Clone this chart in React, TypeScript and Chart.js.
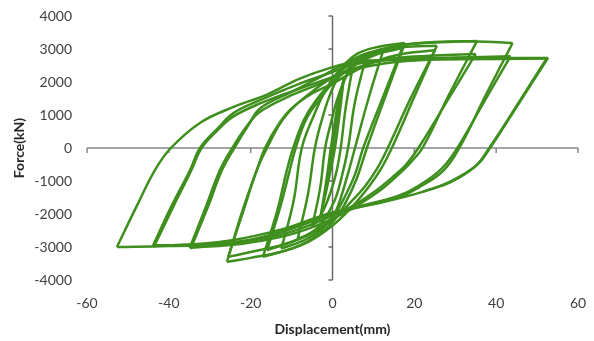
import React, { useEffect, useRef } from 'react';
import { Chart, registerables } from 'chart.js';

Chart.register(...registerables);

type Pt = [number, number];

// Hysteresis branches: [displacement (mm), force (kN)], in loading order
const b01: Pt[] = [[0, 0], [0.8, 650], [1.5, 1250]];
const b02: Pt[] = [[1.5, 1250], [0.6, 500], [0.2, 0], [-0.6, -500], [-1.5, -1150]];
const b03: Pt[] = [[-1.5, -1150], [-0.6, -450], [-0.2, 0], [0.8, 700], [1.8, 1450], [2.8, 2150]];
const b04: Pt[] = [[2.8, 2150], [1.5, 800], [0.6, 0], [-0.5, -700], [-1.6, -1350], [-2.8, -2000]];
const b05: Pt[] = [[-2.8, -2000], [-1.4, -900], [-0.4, 0], [0.6, 800], [1.6, 1500], [3, 2100], [5, 2500]];
const b06: Pt[] = [[5, 2500], [3.2, 1200], [2, 0], [1, -700], [-0.5, -1350], [-2.5, -1950], [-5, -2400]];
const b07: Pt[] = [[-5, -2400], [-3, -1200], [-1.8, 0], [-0.3, 800], [1.5, 1600], [4, 2300], [8.4, 2850]];
const b08: Pt[] = [[8.4, 2850], [5.5, 1400], [3.8, 0], [2.3, -850], [0.5, -1600], [-2.5, -2250], [-5.5, -2600], [-8.5, -2750]];
const b09: Pt[] = [[-8.5, -2750], [-6, -1400], [-4.3, 0], [-2.5, 900], [0, 1800], [3, 2450], [7, 2800], [12.5, 3000]];
const b10: Pt[] = [[12.5, 3000], [8.8, 1500], [5.5, 0], [3.5, -900], [1.5, -1700], [0, -2100], [-3, -2500], [-7, -2800], [-12.5, -3050]];
const b11: Pt[] = [[-12.5, -3050], [-9.5, -1600], [-7.5, 0], [-4.5, 1000], [-1.5, 1800], [2, 2400], [6, 2850], [11, 3060], [17.7, 3180]];
const b12: Pt[] = [[17.7, 3180], [13, 1590], [8.4, 0], [6, -900], [3, -1700], [0, -2250], [-5, -2750], [-10, -3050], [-17, -3300]];
const b13: Pt[] = [[-17, -3300], [-13.5, -1900], [-11.2, -700], [-9.6, 0], [-7, 850], [-4, 1450], [0, 2000], [6, 2550], [11, 2850], [17, 3020]];
const b14: Pt[] = [[17, 3020], [12.2, 1500], [7.5, 0], [5.5, -800], [2.5, -1600], [0, -2100], [-5, -2550], [-10, -2850], [-16, -3100]];
const b15: Pt[] = [[-16, -3100], [-12.8, -1800], [-10.5, -700], [-9, 0], [-6.5, 850], [-3, 1500], [1, 2100], [5, 2500], [10, 2850], [17, 3050], [25.5, 3100]];
const b16: Pt[] = [[25.5, 3100], [20, 1550], [14.5, 0], [12, -600], [9, -1150], [5, -1750], [0, -2350], [-6, -2850], [-12.8, -3150], [-20, -3330], [-25.8, -3450]];
const b17: Pt[] = [[-25.8, -3450], [-22, -1900], [-18.5, -670], [-16.5, 0], [-13, 750], [-10, 1200], [-5, 1650], [0, 1950], [5, 2300], [10, 2600], [17, 2850], [25, 2960]];
const b18: Pt[] = [[25, 2960], [19, 1480], [13.5, 0], [11, -600], [8, -1150], [4, -1700], [0, -2200], [-6, -2650], [-12.8, -2950], [-20, -3150], [-25.5, -3300]];
const b19: Pt[] = [[-25.5, -3300], [-21.5, -1800], [-18.5, -670], [-16, 0], [-12.5, 800], [-9, 1300], [-4, 1800], [0, 2150], [5, 2600], [10, 2900], [17, 3120], [25, 3200], [35.3, 3240]];
const b20: Pt[] = [[35.3, 3240], [28.5, 1620], [22, 0], [19, -450], [16.5, -760], [12, -1250], [6, -1750], [0, -2150], [-6, -2450], [-12.8, -2700], [-22, -2900], [-34.9, -3030]];
const b21: Pt[] = [[-34.9, -3030], [-31, -1800], [-27.5, -670], [-24.5, 0], [-21, 650], [-17.7, 1100], [-10, 1600], [-3, 1950], [3, 2300], [8, 2520], [15, 2720], [25, 2800], [35, 2850]];
const b22: Pt[] = [[35, 2850], [28, 1420], [21, 0], [18, -500], [15, -850], [10, -1350], [5, -1750], [0, -2050], [-8, -2450], [-15, -2700], [-25, -2900], [-34.5, -3000]];
const b23: Pt[] = [[-34.5, -3000], [-30.5, -1800], [-27, -670], [-24, 0], [-20.5, 700], [-17.7, 1200], [-10, 1700], [-3, 2150], [3, 2550], [8, 2850], [15, 3080], [25, 3210], [35, 3230], [44, 3180]];
const b24: Pt[] = [[44, 3180], [37.4, 1590], [31, 0], [27, -700], [21, -1200], [16.5, -1480], [8, -1750], [0, -2000], [-10, -2450], [-20, -2800], [-32, -2950], [-43.9, -2970]];
const b25: Pt[] = [[-43.9, -2970], [-39.5, -1800], [-34.8, -670], [-32.4, 0], [-28, 600], [-24.3, 1050], [-17.7, 1450], [-8, 1950], [0, 2300], [6, 2550], [15, 2680], [30, 2740], [43.5, 2780]];
const b26: Pt[] = [[43.5, 2780], [37, 1390], [30.5, 0], [26.5, -650], [21, -1150], [16, -1450], [8, -1720], [0, -1980], [-10, -2420], [-20, -2780], [-32, -2920], [-43.5, -2950]];
const b27: Pt[] = [[-43.5, -2950], [-39, -1800], [-34.5, -670], [-32, 0], [-28, 550], [-24.3, 950], [-17.7, 1350], [-8, 1800], [0, 2150], [6, 2400], [15, 2600], [30, 2700], [52.7, 2730]];
const b28: Pt[] = [[52.7, 2730], [45.6, 1365], [38.5, 0], [35.3, -515], [29, -1000], [22, -1330], [12, -1650], [0, -1950], [-12, -2450], [-25, -2800], [-40, -2960], [-52.7, -3000]];
const b29: Pt[] = [[-52.7, -3000], [-48, -1800], [-43.4, -670], [-39.5, 0], [-32.4, 760], [-24.3, 1240], [-16, 1620], [-8, 2100], [0, 2450], [6, 2620], [15, 2670], [30, 2690], [52.3, 2710]];
const b30: Pt[] = [[52.3, 2710], [45.4, 1355], [38.3, 0], [35, -540], [29, -1030], [22, -1330]];

const branches: Pt[][] = [
  b01, b02, b03, b04, b05, b06, b07, b08, b09, b10,
  b11, b12, b13, b14, b15, b16, b17, b18, b19, b20,
  b21, b22, b23, b24, b25, b26, b27, b28, b29, b30,
];

const xTicks = [-60, -40, -20, 0, 20, 40, 60];
const yTicks = [-4000, -3000, -2000, -1000, 0, 1000, 2000, 3000, 4000];
const xTitle = 'Displacement(mm)';
const yTitle = 'Force(kN)';

const LINE_COLOR = '#3f8f1f';
const AXIS_COLOR = '#868686';
const FONT = 'Lato, "Open Sans", sans-serif';

const centerAxes = {
  id: 'centerAxes',
  beforeDatasetsDraw(chart: any) {
    const { ctx, scales } = chart;
    const x = scales.x;
    const y = scales.y;
    const x0 = x.getPixelForValue(0);
    const y0 = y.getPixelForValue(0);
    ctx.save();
    ctx.strokeStyle = AXIS_COLOR;
    ctx.lineWidth = 1.5;
    ctx.beginPath();
    ctx.moveTo(x.getPixelForValue(xTicks[0]), y0);
    ctx.lineTo(x.getPixelForValue(xTicks[xTicks.length - 1]), y0);
    xTicks.forEach((v) => {
      const px = x.getPixelForValue(v);
      ctx.moveTo(px, y0);
      ctx.lineTo(px, y0 + 5);
    });
    ctx.stroke();
    ctx.strokeStyle = '#6b6b6b';
    ctx.beginPath();
    ctx.moveTo(x0, y.getPixelForValue(yTicks[yTicks.length - 1]));
    ctx.lineTo(x0, y.getPixelForValue(yTicks[0]));
    yTicks.forEach((v) => {
      const py = y.getPixelForValue(v);
      ctx.moveTo(x0 - 4, py);
      ctx.lineTo(x0, py);
    });
    ctx.stroke();
    ctx.restore();
  },
};

export default function App() {
  const ref = useRef<HTMLCanvasElement>(null);
  useEffect(() => {
    if (!ref.current) return;
    const chart = new Chart(ref.current, {
      type: 'scatter',
      data: {
        datasets: branches.map((b) => ({
          data: b.map(([x, y]) => ({ x, y })),
          showLine: true,
          borderColor: LINE_COLOR,
          backgroundColor: LINE_COLOR,
          borderWidth: 2.5,
          pointRadius: 0,
          tension: 0.4,
          fill: false,
        })),
      },
      options: {
        animation: false,
        responsive: true,
        maintainAspectRatio: false,
        layout: { padding: { top: 16, right: 16, left: 0, bottom: 0 } },
        plugins: { legend: { display: false }, tooltip: { enabled: false } },
        scales: {
          x: {
            type: 'linear',
            min: xTicks[0],
            max: xTicks[xTicks.length - 1],
            afterBuildTicks: (s: any) => {
              s.ticks = xTicks.map((v) => ({ value: v }));
            },
            grid: { display: false, drawTicks: false },
            border: { display: false },
            ticks: {
              padding: 15,
              color: '#404040',
              font: { family: FONT, size: 14 },
              callback: (v: any) => String(v),
            },
            title: {
              display: true,
              text: xTitle,
              color: '#262626',
              font: { family: FONT, size: 14, weight: 'bold' },
              padding: { top: 0, bottom: 3 },
            },
            afterFit: (s: any) => {
              s.height = 61;
              s.paddingLeft = 0;
              s.paddingRight = 0;
            },
          },
          y: {
            type: 'linear',
            min: yTicks[0],
            max: yTicks[yTicks.length - 1],
            afterBuildTicks: (s: any) => {
              s.ticks = yTicks.map((v) => ({ value: v }));
            },
            grid: { display: false, drawTicks: false },
            border: { display: false },
            ticks: {
              padding: 15,
              color: '#404040',
              font: { family: FONT, size: 14 },
              callback: (v: any) => String(v),
            },
            title: {
              display: true,
              text: yTitle,
              color: '#262626',
              font: { family: FONT, size: 14, weight: 'bold' },
              padding: { top: 11, bottom: 0 },
            },
            afterFit: (s: any) => {
              s.width = 87;
              s.paddingTop = 0;
              s.paddingBottom = 0;
            },
          },
        },
      },
      plugins: [centerAxes],
    } as any);
    return () => chart.destroy();
  }, []);
  return (
    <div style={{ position: 'fixed', left: 0, top: 0, width: 594, height: 341, background: '#fff' }}>
      <canvas ref={ref} />
    </div>
  );
}
